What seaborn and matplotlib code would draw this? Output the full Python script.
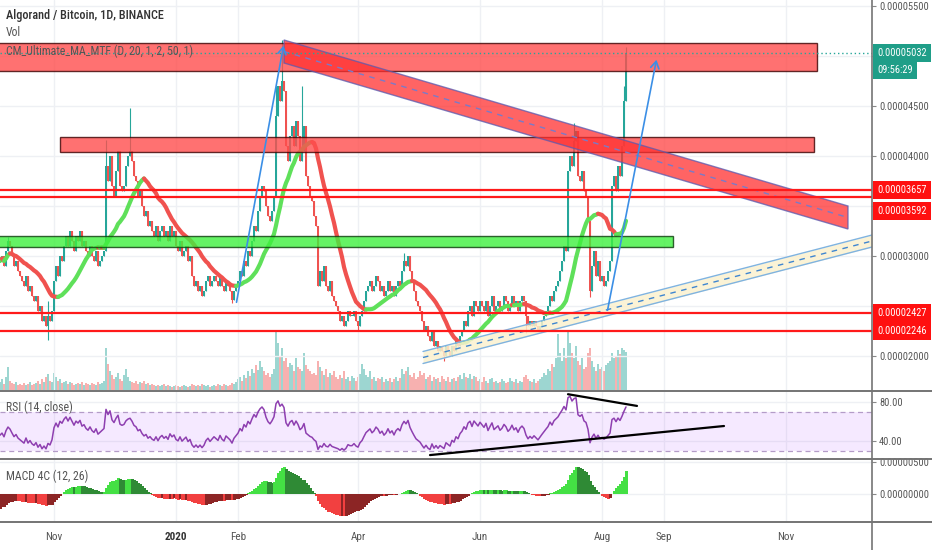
import numpy as np
import pandas as pd
import matplotlib
matplotlib.use("Agg")
import matplotlib.pyplot as plt
import matplotlib.dates as mdates
from matplotlib.patches import Rectangle, Polygon
from matplotlib.lines import Line2D
import seaborn as sns

# ---- data: ALGO/BTC daily, prices in satoshi (1e-8 BTC) ----
first_day = "2019-10-05"
closes = [
    2950, 3000, 2900, 3050, 3150, 3100, 3000, 2900, 2950, 2850,
    2800, 2750, 2700, 2800, 2650, 2700, 2600, 2550, 2600, 2450,
    2500, 2350, 2400, 2300, 2400, 2350, 2450, 2750, 2900, 2800,
    3000, 2950, 3100, 3200, 3100, 3250, 3150, 3050, 3200, 3150,
    3250, 3100, 3150, 3050, 3000, 3100, 3000, 2950, 3050, 2900,
    2950, 3000, 3050, 3900, 3750, 4000, 3700, 3600, 3850, 4050,
    3700, 3650, 3700, 3900, 4000, 4050, 3950, 3800, 3750, 3600,
    3650, 3500, 3400, 3450, 3300, 3350, 3250, 3200, 3300, 3150,
    3250, 3300, 3200, 3250, 3150, 3300, 3200, 3250, 3100, 3050,
    3150, 3000, 3050, 3100, 2950, 3000, 2800, 2700, 2750, 2650,
    2700, 2600, 2650, 2750, 2800, 2700, 2750, 2800, 2750, 2700,
    2800, 2700, 2650, 2750, 2700, 2650, 2560, 2650, 2700, 2750,
    2850, 2800, 2950, 2900, 3050, 3000, 3150, 3300, 3250, 3450,
    3600, 3700, 3650, 3500, 3400, 3350, 3450, 3600, 4400, 4700,
    4550, 4750, 4650, 4100, 3950, 4200, 4300, 4100, 4350, 4200,
    3950, 4050, 4300, 3800, 3700, 3600, 3550, 3400, 3300, 2700,
    2850, 2750, 2900, 2700, 2650, 2750, 2600, 2550, 2500, 2450,
    2350, 2400, 2300, 2350, 2450, 2400, 2400, 2450, 2350, 2300,
    2400, 2450, 2550, 2650, 2700, 2750, 2650, 2700, 2800, 2750,
    2650, 2700, 2600, 2650, 2750, 2650, 2700, 2600, 2700, 2750,
    2700, 2850, 2950, 2900, 3000, 2850, 2750, 2650, 2550, 2500,
    2450, 2350, 2250, 2300, 2200, 2150, 2250, 2100, 2150, 2050,
    2100, 2050, 2000, 2100, 2050, 2000, 2100, 2050, 2150, 2100,
    2200, 2250, 2350, 2300, 2450, 2500, 2400, 2550, 2500, 2450,
    2550, 2500, 2450, 2550, 2400, 2500, 2600, 2450, 2500, 2550,
    2450, 2500, 2600, 2550, 2450, 2500, 2600, 2500, 2550, 2450,
    2550, 2600, 2550, 2400, 2300, 2350, 2300, 2350, 2300, 2250,
    2300, 2350, 2400, 2450, 2500, 2600, 2550, 2650, 2700, 2750,
    2850, 2950, 3100, 3050, 3850, 4000, 3900, 4150, 4250, 3800,
    3750, 3850, 3650, 3600, 3350, 2650, 2900, 3050, 2800, 2950,
    2750, 2800, 2700, 2750, 2850, 2950, 3700, 3800, 3650, 3900,
    3800, 4100, 4550, 5032,
]
volumes = [
    8, 10, 6, 12, 22, 9, 7, 6, 8, 5,
    6, 5, 7, 5, 6, 8, 5, 6, 7, 9,
    6, 10, 8, 12, 15, 9, 8, 16, 12, 9,
    10, 7, 8, 9, 6, 8, 7, 5, 6, 7,
    6, 8, 5, 7, 6, 5, 7, 6, 5, 8,
    6, 7, 9, 40, 25, 18, 14, 10, 12, 16,
    10, 9, 14, 20, 12, 9, 8, 7, 9, 6,
    8, 7, 9, 6, 7, 5, 6, 5, 4, 5,
    4, 5, 6, 4, 5, 4, 3, 4, 5, 4,
    3, 4, 5, 4, 3, 4, 6, 5, 4, 5,
    4, 6, 5, 4, 5, 3, 4, 5, 4, 6,
    5, 4, 6, 5, 4, 5, 7, 6, 8, 10,
    12, 9, 14, 11, 18, 13, 20, 16, 24, 19,
    28, 22, 18, 14, 16, 12, 15, 20, 55, 45,
    32, 40, 28, 30, 22, 26, 24, 18, 30, 22,
    20, 18, 35, 24, 20, 18, 15, 16, 14, 28,
    22, 18, 14, 20, 12, 16, 14, 18, 12, 10,
    14, 11, 18, 10, 12, 9, 13, 11, 9, 12,
    15, 25, 20, 14, 12, 18, 10, 12, 9, 11,
    10, 12, 8, 10, 9, 11, 8, 10, 12, 9,
    11, 20, 15, 18, 22, 14, 12, 16, 10, 12,
    18, 14, 16, 10, 12, 14, 9, 12, 10, 11,
    8, 13, 10, 9, 12, 8, 10, 11, 9, 12,
    14, 10, 16, 12, 11, 15, 10, 13, 12, 9,
    10, 8, 12, 9, 7, 10, 11, 8, 9, 7,
    8, 10, 9, 7, 8, 11, 9, 8, 10, 7,
    9, 8, 12, 14, 10, 9, 8, 10, 7, 9,
    10, 12, 16, 14, 20, 18, 25, 22, 30, 53,
    35, 28, 40, 30, 57, 45, 35, 30, 42, 28,
    24, 30, 20, 22, 35, 40, 28, 22, 18, 25,
    20, 22, 18, 24, 26, 28, 35, 30, 32, 38,
    34, 40, 38, 36,
]
# notable wicks (day index -> price)
spike_highs = {4: 3190, 24: 2550, 53: 4160, 65: 4480, 138: 4700, 141: 5160,
               151: 4700, 202: 3030, 287: 4330, 312: 4700, 313: 5090}
spike_lows = {24: 2160, 116: 2530, 179: 2250, 222: 1950, 263: 2230, 295: 2590}

# indicator values at the left edge of the chart (history before the window)
rsi_start = 46
macd_start = -260

level_lines = [3657, 3592, 2427, 2246]
last_price = 5032
countdown = "09:56:29"
month_ticks = ["2019-11-01", "2020-01-01", "2020-02-01", "2020-04-01",
               "2020-06-01", "2020-08-01", "2020-09-01", "2020-11-01"]
month_labels = ["Nov", "2020", "Feb", "Apr", "Jun", "Aug", "Sep", "Nov"]
price_ticks = [2000, 2500, 3000, 3500, 4000, 4500, 5000, 5500]
hidden_price_ticks = [2500, 3500, 5000]

# chart drawings, (day index, price)
red_zones = [(-2, 408.5, 4850, 5130), (30, 407, 4040, 4195)]
green_zone = (-2, 336.5, 3090, 3200)
falling_channel = [(142, 5160), (424, 3500), (424, 3270), (142, 4930)]
rising_top = [(211.5, 2045), (437, 3215)]
rising_bottom = [(211.5, 1925), (437, 3095)]
arrows = [((118, 2510), (142, 5130)), ((303.5, 2430), (328.5, 4990))]
rsi_trendlines = [((215, 25.6), (362, 55.4)), ((284, 88.0), (318.5, 76.0))]

# ---- derived series ----
dates = pd.date_range(first_day, periods=len(closes), freq="D")
df = pd.DataFrame({"close": np.array(closes, dtype=float),
                   "volume": np.array(volumes, dtype=float)})
df["date"] = dates
df["open"] = df["close"].shift(1).fillna(df["close"])
df["high"] = df[["open", "close"]].max(axis=1)
df["low"] = df[["open", "close"]].min(axis=1)
for k, v in spike_highs.items():
    df.loc[k, "high"] = max(v, df.loc[k, "high"])
for k, v in spike_lows.items():
    df.loc[k, "low"] = min(v, df.loc[k, "low"])
df["ma"] = df["close"].rolling(20, min_periods=1).mean()

# Wilder RSI(14), started from the level seen at the left edge
avg_g, avg_l = rsi_start, 100 - rsi_start
rsi = []
prev_c = closes[0]
for c in closes:
    d = c - prev_c
    avg_g = (avg_g * 13 + max(d, 0)) / 14
    avg_l = (avg_l * 13 + max(-d, 0)) / 14
    rsi.append(100 - 100 / (1 + avg_g / avg_l))
    prev_c = c
df["rsi"] = rsi

# MACD line (EMA12 - EMA26), slow EMA started so the first value is macd_start
e12, e26 = closes[0], closes[0] - macd_start
macd = []
for c in closes:
    e12 += (c - e12) * 2 / 13
    e26 += (c - e26) * 2 / 27
    macd.append(e12 - e26)
df["macd"] = macd

t0 = mdates.date2num(pd.Timestamp(first_day))
X = lambda d: t0 + d
xs = mdates.date2num(dates)

# ---- style ----
sns.set_style("white")
plt.rcParams["font.family"] = ["Roboto Condensed", "Liberation Sans", "DejaVu Sans"]
plt.rcParams["font.stretch"] = "condensed"

UP, DOWN = "#26a69a", "#ef5350"
GRID = "#eef0f4"
TXT = "#555555"
LBL = 7.5

fig = plt.figure(figsize=(9.32, 5.5), dpi=100)
W = 872 / 932
ax = fig.add_axes([0, 1 - 390 / 550, W, 390 / 550])
ax_rsi = fig.add_axes([0, 1 - 458 / 550, W, 67 / 550], sharex=ax)
ax_macd = fig.add_axes([0, 1 - 521 / 550, W, 63 / 550], sharex=ax)

# volume behind candles
axv = ax.twinx()
axv.set_zorder(0)
ax.set_zorder(1)
ax.patch.set_visible(False)
up = (df["close"] >= df["open"]).values
vcol = np.where(up, UP, DOWN)
axv.bar(xs, df["volume"].values, width=1.1, color=vcol, alpha=0.45, linewidth=0)
axv.set_ylim(0, df["volume"].max() * 6.5)
axv.set_yticks([])
for s in axv.spines.values():
    s.set_visible(False)

# candles
ccol = np.where(up, UP, DOWN)
ax.vlines(xs, df["low"].values, df["high"].values, colors=ccol, lw=0.8, zorder=3)
body = (df["close"] - df["open"]).abs().clip(lower=8).values
ax.bar(xs, body, bottom=df[["open", "close"]].min(axis=1).values, width=1.2,
       color=ccol, linewidth=0, zorder=3)

# moving average coloured by direction
ma = df["ma"].values
rising = np.r_[True, ma[1:] >= ma[:-1]]
start = 0
for i in range(1, len(ma) + 1):
    if i == len(ma) or rising[i] != rising[start]:
        seg = slice(max(start - 1, 0), i)
        ax.plot(xs[seg], ma[seg], color="#5fe05a" if rising[start] else "#f0524f",
                lw=3, solid_capstyle="round", zorder=4)
        start = i

# zones
for d0, d1, p0, p1 in red_zones:
    ax.add_patch(Rectangle((X(d0), p0), d1 - d0, p1 - p0, fc="#ff4d4d", alpha=0.8,
                           ec="#3a0000", lw=1, zorder=5))
d0, d1, p0, p1 = green_zone
ax.add_patch(Rectangle((X(d0), p0), d1 - d0, p1 - p0, fc="#3ef03e", alpha=0.8,
                       ec="#0b3a0b", lw=1, zorder=5))

# falling channel
ax.add_patch(Polygon([(X(d), p) for d, p in falling_channel], closed=True,
                     fc="#ff3030", alpha=0.75, ec="#5a5ab0", lw=1, zorder=5))
(a, pa), (b, pb), (c, pc), (e, pe) = falling_channel
ax.plot([X(a), X(b)], [(pa + pe) / 2, (pb + pc) / 2], ls=(0, (4, 4)), color="#7a7ac8", lw=1, zorder=6)

# rising channel
tx = [X(d) for d, _ in rising_top]
bx = [X(d) for d, _ in rising_bottom]
tp = [p for _, p in rising_top]
bp = [p for _, p in rising_bottom]
ax.fill_between(tx, bp, tp, color="#fbf1cf", alpha=0.85, lw=0, zorder=5)
ax.plot(tx, tp, color="#7fb3e0", lw=1, zorder=6)
ax.plot(bx, bp, color="#7fb3e0", lw=1, zorder=6)
ax.plot(tx, [(u + v) / 2 for u, v in zip(tp, bp)], color="#3f86d0", lw=1,
        ls=(0, (4, 4)), zorder=6)

# level lines
for lv in level_lines:
    ax.axhline(lv, color="#ff1a1a", lw=1.6, zorder=6)
ax.axhline(last_price, color=UP, lw=1, ls=(0, (1, 2)), zorder=6)

# arrows
for (sd, sp), (ed, ep) in arrows:
    ax.annotate("", xy=(X(ed), ep), xytext=(X(sd), sp),
                arrowprops=dict(arrowstyle="->,head_length=0.5,head_width=0.3",
                                color="#3b8fe6", lw=1.2), zorder=7)

# main axis cosmetics
ax.set_xlim(X(0), X(436))
ax.set_ylim(1660, 5560)
ax.yaxis.tick_right()
ax.set_yticks(price_ticks)
ax.set_yticklabels(["" if t in hidden_price_ticks else f"{t / 1e8:.8f}" for t in price_ticks])
ax.tick_params(axis="y", length=3, color="#888", labelsize=LBL, labelcolor=TXT, pad=2)
ax.tick_params(axis="x", length=0, labelbottom=False)
ax.set_xticks(mdates.date2num(pd.to_datetime(month_ticks)))
ax.grid(True, color=GRID, lw=1)
ax.set_axisbelow(True)
axv.set_xlim(X(0), X(436))
axv.grid(False)


def price_label(axis, y, text, bg, offset=0):
    axis.annotate(text, xy=(1.006, y), xycoords=axis.get_yaxis_transform(),
                  xytext=(0, offset), textcoords="offset points",
                  ha="left", va="center", fontsize=LBL, color="white", zorder=20,
                  annotation_clip=False,
                  bbox=dict(boxstyle="square,pad=0.38", fc=bg, ec="none"))


price_label(ax, last_price, f"{last_price / 1e8:.8f}", "#1f9e88")
price_label(ax, last_price, countdown, "#1f9e88", offset=-12.5)
price_label(ax, level_lines[0], f"{level_lines[0] / 1e8:.8f}", "#ff1010")
price_label(ax, level_lines[1], f"{level_lines[1] / 1e8:.8f}", "#ff1010", offset=-10)
price_label(ax, level_lines[2], f"{level_lines[2] / 1e8:.8f}", "#ff1010")
price_label(ax, level_lines[3], f"{level_lines[3] / 1e8:.8f}", "#ff1010")

# ---- RSI ----
ax_rsi.axhspan(30, 70, color="#9915ff", alpha=0.09, lw=0)
ax_rsi.axhline(70, color="#b49cc8", lw=0.9, ls=(0, (4, 3)))
ax_rsi.axhline(30, color="#b49cc8", lw=0.9, ls=(0, (4, 3)))
sns.lineplot(x=xs, y=df["rsi"].values, ax=ax_rsi, color="#8e3fb0", lw=1.1)
for (sd, sv), (ed, ev) in rsi_trendlines:
    ax_rsi.plot([X(sd), X(ed)], [sv, ev], color="black", lw=1.6, zorder=5)
ax_rsi.set_ylim(22.6, 91.3)
ax_rsi.yaxis.tick_right()
ax_rsi.set_yticks([40, 80])
ax_rsi.set_yticklabels(["40.00", "80.00"])
ax_rsi.tick_params(axis="y", length=3, color="#888", labelsize=LBL, labelcolor=TXT, pad=2)
ax_rsi.tick_params(axis="x", length=0, labelbottom=False)
ax_rsi.grid(True, color=GRID, lw=1)
ax_rsi.set_axisbelow(True)

# ---- MACD 4C ----
m = df["macd"].values
prev = np.r_[m[0], m[:-1]]
mcol = np.where(m >= 0, np.where(m > prev, "#44e044", "#2f8a35"),
                np.where(m < prev, "#f24040", "#8c2525"))
ax_macd.bar(xs, m, width=1.5, color=mcol, linewidth=0, zorder=3)
ax_macd.set_ylim(-435, 565)
ax_macd.yaxis.tick_right()
ax_macd.set_yticks([0, 500])
ax_macd.set_yticklabels(["0.00000000", "0.00000500"])
ax_macd.tick_params(axis="y", length=3, color="#888", labelsize=LBL, labelcolor=TXT, pad=2)
ax_macd.set_xticks(mdates.date2num(pd.to_datetime(month_ticks)))
ax_macd.set_xticklabels(month_labels)
ax_macd.tick_params(axis="x", length=0, labelsize=8, labelcolor=TXT, pad=8)
for lab in ax_macd.get_xticklabels():
    if lab.get_text() == "2020":
        lab.set_fontweight("bold")
        lab.set_color("#333")
ax_macd.grid(True, color=GRID, lw=1)
ax_macd.set_axisbelow(True)

for a_ in (ax, ax_rsi, ax_macd):
    for s in a_.spines.values():
        s.set_visible(False)
    a_.set_xlim(X(0), X(436))

# panel separators and price scale border
for ypx in (390.5, 458.5, 521.5):
    fig.add_artist(Line2D([0, 1], [1 - ypx / 550] * 2, transform=fig.transFigure,
                          color="#747474", lw=1.4))
fig.add_artist(Line2D([W, W], [0, 1], transform=fig.transFigure, color="#747474", lw=1.2))

# legends / titles
fig.text(6 / 932, 1 - 16 / 550, "Algorand / Bitcoin, 1D, BINANCE", fontsize=8.8,
         color="#333", va="center", fontweight="medium")
fig.text(6 / 932, 1 - 33 / 550, "Vol", fontsize=8.5, color=TXT, va="center")
fig.text(6 / 932, 1 - 51 / 550, "CM_Ultimate_MA_MTF (D, 20, 1, 2, 50, 1)", fontsize=8.5,
         color=TXT, va="center", zorder=30)
fig.text(6 / 932, 1 - 407 / 550, "RSI (14, close)", fontsize=8.5, color=TXT, va="center")
fig.text(6 / 932, 1 - 476 / 550, "MACD 4C (12, 26)", fontsize=8.5, color=TXT, va="center")

fig.savefig("out.png", dpi=100, facecolor="white")
